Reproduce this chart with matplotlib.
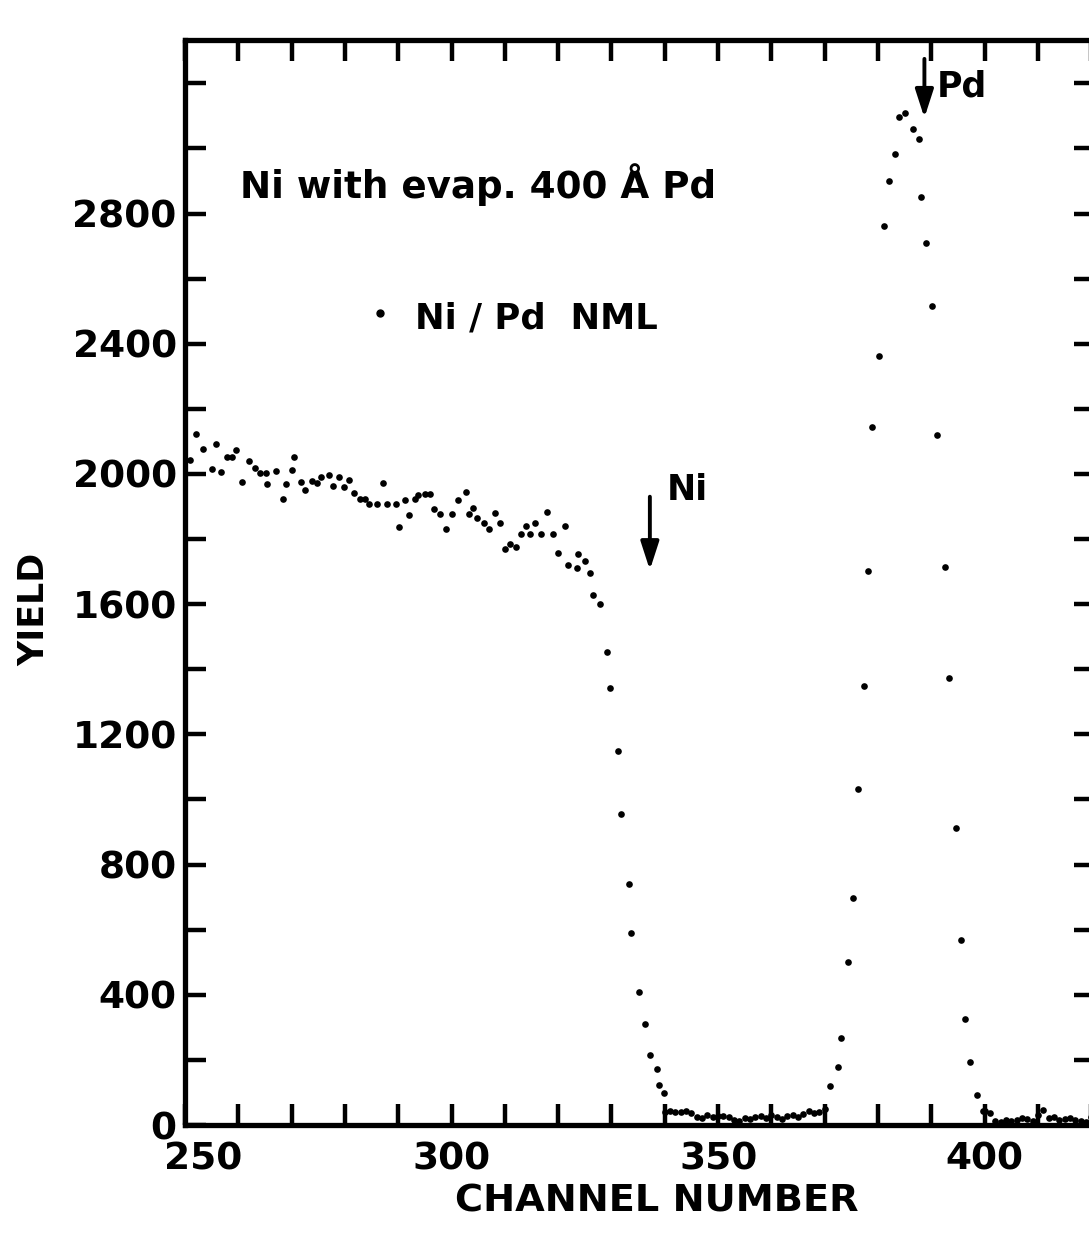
import numpy as np
import matplotlib
matplotlib.use("Agg")
import matplotlib.pyplot as plt
from matplotlib.transforms import ScaledTranslation

# ---- data ----
ni_ch = [250.9, 252.0, 253.4, 255.0, 255.8, 256.7, 257.8, 258.8, 259.6, 260.6,
         262.0, 263.1, 264.1, 265.2, 265.3, 267.1, 268.3, 268.9, 270.1, 270.5,
         271.8, 272.6, 273.8, 274.7, 275.6, 277.0, 277.8, 278.8, 279.8, 280.8,
         281.7, 282.8, 283.8, 284.6, 286.0, 287.2, 287.8, 289.6, 290.2, 291.3,
         292.0, 293.2, 293.8, 295.0, 296.0, 296.7, 297.8, 299.0, 300.0, 301.3,
         302.7, 303.2, 304.0, 304.8, 306.1, 307.1, 308.2, 309.0, 310.0, 311.0,
         312.1, 313.0, 314.0, 314.7, 315.7, 316.7, 317.9, 319.1, 320.0, 321.2,
         321.9, 323.5, 323.8, 325.0, 326.0, 326.6, 327.9, 329.1, 329.8, 331.2,
         331.7, 333.3, 333.7, 335.2, 336.2, 337.3, 338.6, 338.9, 339.9]
ni_yield = [2043, 2123, 2078, 2014, 2093, 2005, 2053, 2053, 2074, 1976,
            2040, 2019, 2004, 2004, 1969, 2009, 1923, 1969, 2012, 2053,
            1976, 1951, 1979, 1971, 1992, 1996, 1962, 1990, 1961, 1981,
            1942, 1922, 1924, 1908, 1908, 1973, 1908, 1908, 1836, 1920,
            1874, 1922, 1935, 1938, 1939, 1892, 1877, 1831, 1877, 1920,
            1943, 1877, 1895, 1864, 1850, 1831, 1881, 1849, 1770, 1785,
            1777, 1814, 1839, 1814, 1850, 1816, 1883, 1816, 1757, 1841,
            1720, 1710, 1753, 1733, 1697, 1628, 1601, 1452, 1342, 1149,
            955, 739, 591, 410, 311, 215, 172, 124, 97]

gap_ch = [340, 341, 342, 343, 344, 345, 346, 347, 348, 349, 350, 351, 352, 353,
          354, 355, 356, 357, 358, 359, 360, 361, 362, 363, 364, 365, 366, 367,
          368, 369, 370]
gap_yield = [40, 42, 40, 41, 43, 38, 25, 22, 30, 24, 27, 28, 25, 15,
             12, 22, 18, 25, 28, 22, 30, 25, 18, 28, 30, 24, 35, 42,
             38, 40, 48]

pd_ch = [371.0, 372.4, 373.1, 374.4, 375.3, 376.2, 377.3, 378.1, 378.8, 380.1,
         381.2, 382.0, 383.2, 384.0, 385.1, 386.5, 387.6, 388.1, 389.0, 390.2,
         391.1, 392.5, 393.4, 394.6, 395.6, 396.4, 397.3, 398.6, 399.6]
pd_yield = [121, 177, 266, 502, 698, 1031, 1350, 1703, 2145, 2362,
            2763, 2901, 2982, 3098, 3110, 3061, 3028, 2852, 2710, 2517,
            2119, 1715, 1373, 912, 568, 325, 194, 91, 44]

tail_ch = [400, 401, 402, 403, 404, 405, 406, 407, 408, 409, 410, 411, 412,
           413, 414, 415, 416, 417, 418, 419, 420]
tail_yield = [42, 38, 12, 10, 14, 12, 15, 22, 18, 12, 30, 45, 20,
              25, 15, 18, 20, 15, 12, 10, 25]

x_ticks = list(range(250, 421, 10))
x_labels = ["250", "300", "350", "400"]
y_ticks = list(range(0, 3201, 200))
y_labels = ["0", "400", "800", "1200", "1600", "2000", "2400", "2800"]

# ---- figure ----
W, H = 1089, 1238
fig = plt.figure(figsize=(W / 100, H / 100), dpi=100)
ax = fig.add_axes([185 / W, (H - 1125) / H, (1095 - 185) / W, (1125 - 40) / H])

font = dict(family="DejaVu Sans", weight="bold")

for cx, cy in [(ni_ch, ni_yield), (gap_ch, gap_yield), (pd_ch, pd_yield),
               (tail_ch, tail_yield)]:
    ax.plot(cx, cy, linestyle="none", marker="o", markersize=4.8,
            color="black", markeredgewidth=0)

ax.set_xlim(250, 420.7)
ax.set_ylim(0, 3333)

ax.set_xticks(x_ticks)
ax.set_xticklabels([str(v) if str(v) in x_labels else "" for v in x_ticks])
ax.set_yticks(y_ticks)
ax.set_yticklabels([str(v) if str(v) in y_labels else "" for v in y_ticks])

ax.tick_params(direction="in", top=True, right=True, length=15, width=3.2,
               labelsize=27)
ax.tick_params(axis="x", pad=12)
ax.tick_params(axis="y", pad=6)
for lab in ax.get_xticklabels() + ax.get_yticklabels():
    lab.set_fontweight("bold")
    lab.set_family("DejaVu Sans")
# the "250" label sits a little right of its tick in the original
first = ax.get_xticklabels()[0]
first.set_transform(first.get_transform() +
                    ScaledTranslation(18 / 100, 0, fig.dpi_scale_trans))
for sp in ax.spines.values():
    sp.set_linewidth(3.8)

ax.set_xlabel("CHANNEL NUMBER", fontsize=27.5, **font)
ax.xaxis.set_label_coords(0.519, -0.054)
ax.set_ylabel("YIELD", fontsize=25, **font)
ax.yaxis.set_label_coords(-0.147, 0.475)

# annotations
ax.text(260.3, 2888, "Ni with evap. 400 Å Pd", fontsize=26.8, va="center",
        ha="left", **font)
ax.plot([286.6], [2495], marker="o", markersize=5, color="black", linestyle="none")
ax.text(293.2, 2479, "Ni / Pd  NML", fontsize=25.5, va="center", ha="left", **font)

ax.annotate("", xy=(337.2, 1705), xytext=(337.2, 1930),
            arrowprops=dict(arrowstyle="-|>,head_length=1.7,head_width=0.55",
                            color="black", lw=2.8, shrinkA=0, shrinkB=0))
ax.text(340.4, 1951, "Ni", fontsize=25, va="center", ha="left", **font)

ax.annotate("", xy=(388.7, 3094), xytext=(388.7, 3275),
            arrowprops=dict(arrowstyle="-|>,head_length=1.7,head_width=0.55",
                            color="black", lw=2.8, shrinkA=0, shrinkB=0))
ax.text(391.1, 3189, "Pd", fontsize=25, va="center", ha="left", **font)

fig.savefig("out.png", dpi=100)
